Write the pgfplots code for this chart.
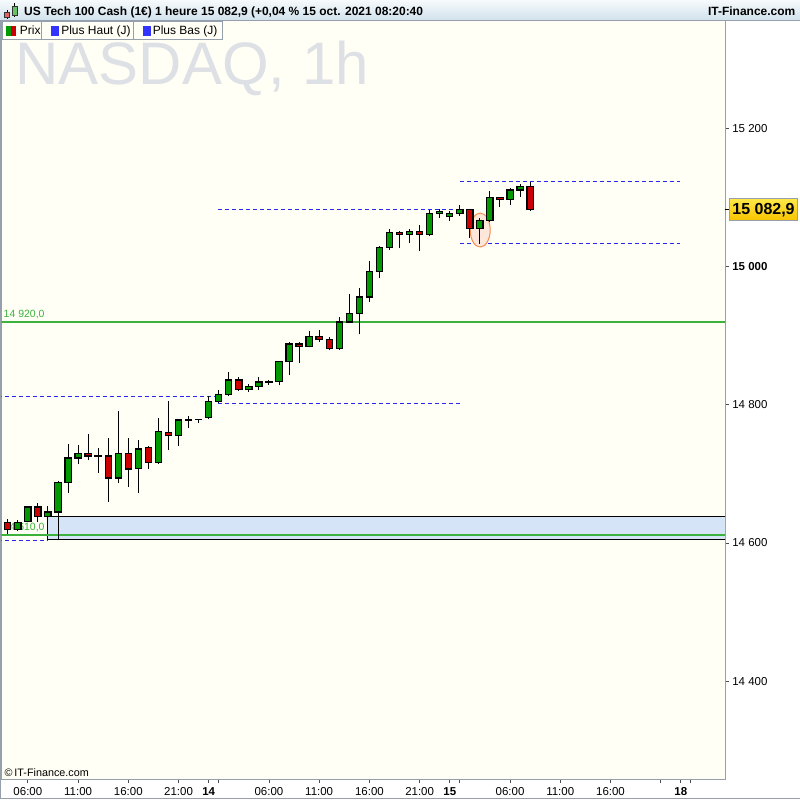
\documentclass[border=0pt]{standalone}
\usepackage{pgfplots}
\pgfplotsset{compat=1.18}
\usepackage{pgfplotstable}
\usepackage{fontspec}
\setmainfont{Liberation Sans}

\definecolor{plotbg}{RGB}{255,255,246}
\definecolor{upgreen}{RGB}{0,153,0}
\definecolor{downred}{RGB}{204,0,0}
\definecolor{lvlgreen}{RGB}{60,178,60}
\definecolor{dashblue}{RGB}{40,40,240}
\definecolor{zonefill}{RGB}{214,228,247}
\definecolor{framegray}{RGB}{150,160,172}
\definecolor{wmgray}{RGB}{221,224,228}
\definecolor{hdrtop}{RGB}{246,250,252}
\definecolor{hdrbot}{RGB}{208,225,236}
\definecolor{legblue}{RGB}{51,51,255}
\definecolor{pricey1}{RGB}{255,232,70}
\definecolor{pricey2}{RGB}{248,196,0}
\definecolor{ringfill}{RGB}{252,231,218}
\definecolor{ringdraw}{RGB}{245,140,80}

\pgfdeclareplotmark{nothing}{}

% hourly candles, h = hours since 13 oct 06:00
\pgfplotstableread{
h  open   high   low    close
-2 14630 14635 14613 14620
-1 14620 14633 14618 14630
0  14631 14654 14630 14652
1  14652 14658 14630 14638
2  14638 14654 14637 14645
3  14645 14690 14605 14687
4  14687 14744 14673 14723
5  14723 14742 14714 14730
6  14730 14758 14720 14726
7  14726 14738 14702 14726.5
8  14726 14752 14660 14694
9  14694 14791 14687 14729
10 14729 14752 14681 14707
11 14708 14749 14673 14736
12 14738 14741 14707 14716
13 14716 14781 14714 14761
14 14760 14806 14734 14756
15 14756 14780 14741 14778
16 14778 14784 14767 14779
17 14779 14780 14774 14778.5
18 14782 14813 14779 14805
19 14805 14822 14802 14815
20 14815 14847 14813 14836
21 14836 14840 14820 14822
22 14822 14830 14819 14827
23 14827 14840 14822 14833
24 14833 14836 14829 14834
25 14834 14864 14828 14863
26 14863 14891 14843 14888
27 14888 14891 14860 14884
28 14884 14907 14883 14899
29 14899 14908 14891 14894
30 14895 14898 14880 14881
31 14881 14927 14880 14920
32 14920 14960 14919 14932
33 14932 14969 14902 14956
34 14956 15008 14949 14993
35 14993 15030 14983 15028
36 15028 15055 15024 15049
37 15049 15051 15027 15046
38 15046 15055 15034 15051
39 15051 15060 15022 15046
40 15046 15082 15045 15077
41 15077 15083 15071 15080
42 15073 15081 15066 15077
43 15077 15089 15074 15083
44 15083 15084 15042 15055
45 15055 15071 15033 15067
46 15067 15109 15065 15100
47 15100 15101 15087 15097
48 15097 15114 15089 15111
49 15111 15120 15101 15116
50 15116 15123 15081 15082.9
}\candles

\begin{document}
\begin{tikzpicture}
% screen pixel frame: (X,Y) with Y downwards
\begin{scope}[x=1bp,y=-1bp,shift={(-1bp,780bp)}]
  \useasboundingbox (0,0) rectangle (800,800);
  \fill[white] (0,0) rectangle (800,800);
\end{scope}

\begin{axis}[
  at={(0,0)}, anchor=south west, name=main,
  scale only axis, width=724.5bp, height=759bp,
  xmin=-2.625, xmax=69.41, ymin=14258.3, ymax=15355.7,
  axis background/.style={fill=plotbg},
  axis line style={draw=framegray, line width=1bp},
  scaled y ticks=false, scaled x ticks=false,
  ytick={14400,14600,14800,15000,15200},
  yticklabels={14 400,14 600,14 800,{\bfseries 15 000},15 200},
  ytick pos=right, yticklabel pos=right,
  xtick={0,5,10,15,18,19,24,29,34,39,42,43,48,53,58,63,65,66},
  xticklabels={06:00,11:00,16:00,21:00,\textbf{14},{},06:00,11:00,16:00,21:00,\textbf{15},{},06:00,11:00,16:00,{},\textbf{18},{}},
  xtick pos=bottom,
  tick align=outside, major tick length=4bp,
  tick style={draw=black!70, line width=0.8bp},
  ticklabel style={font=\fontsize{11.5bp}{13bp}\selectfont, inner sep=0pt},
  yticklabel style={anchor=west, xshift=3bp},
  xticklabel style={anchor=north, yshift=-4bp},
]
% zone between 14605 and 14638
\addplot[fill=zonefill, draw=black, line width=1bp] coordinates {(2,14605) (70,14605) (70,14638) (2,14638)} -- cycle;

% horizontal levels
\addplot[lvlgreen, line width=2.2bp] coordinates {(-3,14920) (70,14920)};
\addplot[lvlgreen, line width=2.2bp] coordinates {(-3,14611) (70,14611)};
\node[anchor=base west, inner sep=0pt, text=lvlgreen, font=\fontsize{10.5bp}{12bp}\selectfont]
  at (axis cs:-2.625,14920) [xshift=2bp, yshift=4.3bp] {14 920,0};
\node[anchor=base west, inner sep=0pt, text=lvlgreen, font=\fontsize{10.5bp}{12bp}\selectfont]
  at (axis cs:-2.625,14611) [xshift=2bp, yshift=4.8bp] {14 610,0};

\addplot[dashblue, line width=1bp, dash pattern=on 4bp off 3bp] coordinates {(-3,14604) (2,14604)};
\addplot[dashblue, line width=1bp, dash pattern=on 4bp off 3bp] coordinates {(-3,14812.5) (18.95,14812.5)};
\addplot[dashblue, line width=1bp, dash pattern=on 4bp off 3bp] coordinates {(18.95,15083) (43,15083)};
\addplot[dashblue, line width=1bp, dash pattern=on 4bp off 3bp] coordinates {(18.95,14801.5) (43,14801.5)};
\addplot[dashblue, line width=1bp, dash pattern=on 4bp off 3bp] coordinates {(43,15123) (64.9,15123)};
\addplot[dashblue, line width=1bp, dash pattern=on 4bp off 3bp] coordinates {(43,15033) (64.9,15033)};

% highlight ring
\draw[fill=ringfill, draw=ringdraw, line width=1bp] (axis cs:45.03,15053) ellipse [x radius=10bp, y radius=17bp];

% candles
\addplot[
  only marks, mark=nothing, scatter,
  visualization depends on={\thisrow{open}-\thisrow{close} \as \dopen},
  visualization depends on={\thisrow{high}-\thisrow{close} \as \dhigh},
  visualization depends on={\thisrow{low}-\thisrow{close} \as \dlow},
  scatter/@pre marker code/.code={%
    \begin{scope}
    \ifdim\dopen pt>0pt \def\cfill{downred}\else\def\cfill{upgreen}\fi
    \draw[black, line width=1bp] (axis direction cs:0,\dlow) -- (axis direction cs:0,\dhigh);
    \filldraw[fill=\cfill, draw=black, line width=1.2bp] (axis direction cs:-0.31,0) rectangle (axis direction cs:0.31,\dopen);
    \end{scope}
  },
  scatter/@post marker code/.code={},
] table[x=h, y=close] {\candles};
\end{axis}

\begin{scope}[x=1bp,y=-1bp,shift={(-1bp,780bp)}]
  % header bar
  \shade[top color=hdrtop, bottom color=hdrbot] (0,0) rectangle (800,21);
  \draw[framegray, line width=1bp] (0,21) -- (800,21);
  \draw[black, line width=0.8bp] (6.5,10) -- (6.5,19);
  \filldraw[fill=downred!60, draw=black!80, line width=0.6bp] (4,12) rectangle (9,17);
  \draw[black, line width=0.8bp] (14.3,3) -- (14.3,17);
  \filldraw[fill=upgreen!60, draw=black!80, line width=0.6bp] (11.5,6.5) rectangle (17,15.5);
  \node[anchor=base west, inner sep=0pt, font=\bfseries\fontsize{12bp}{14bp}\selectfont] at (23.5,16)
    {US Tech 100 Cash (1€) 1 heure 15 082,9 (+0,04 \% 15 oct. 2021 08:20:40};
  \node[anchor=base east, inner sep=0pt, font=\bfseries\fontsize{12bp}{14bp}\selectfont] at (796,16)
    {IT-Finance.com};

  % legend cells
  \draw[framegray, line width=1bp] (2,22) rectangle (41.3,39.3);
  \draw[framegray, line width=1bp] (41.3,22) rectangle (133.3,39.3);
  \draw[framegray, line width=1bp] (133.3,22) rectangle (222,39.3);
  \fill[upgreen] (5.3,25.7) rectangle (10.7,36);
  \fill[downred] (10.7,25.7) rectangle (16,36);
  \fill[legblue] (50.5,25.7) rectangle (58.5,36);
  \fill[legblue] (142.3,25.7) rectangle (150.3,36);
  \node[anchor=base west, inner sep=0pt, font=\fontsize{12bp}{14bp}\selectfont] at (19.3,35) {Prix};
  \node[anchor=base west, inner sep=0pt, font=\fontsize{12bp}{14bp}\selectfont] at (60.7,35) {Plus Haut (J)};
  \node[anchor=base west, inner sep=0pt, font=\fontsize{12bp}{14bp}\selectfont] at (152.3,35) {Plus Bas (J)};

  % watermark
  \node[anchor=base west, inner sep=0pt, text=wmgray, font=\fontsize{60bp}{60bp}\selectfont] at (15,85) {NASDAQ, 1h};

  % last price tag
  \draw[black, line width=1bp] (725.5,209.7) -- (729.5,209.7);
  \shade[top color=pricey1, bottom color=pricey2] (730,199) rectangle (797.5,220.5);
  \draw[framegray, line width=1bp] (730,199) rectangle (797.5,220.5);
  \node[inner sep=0pt, font=\bfseries\fontsize{16bp}{16bp}\selectfont] at (764,210) {15 082,9};

  % copyright and outer frame
  \node[anchor=base west, inner sep=0pt, font=\fontsize{10.8bp}{12bp}\selectfont] at (4,777) {©\,IT-Finance.com};
  \draw[framegray, line width=1bp] (0.5,21) -- (0.5,800);
  \draw[framegray, line width=1bp] (0,799.5) -- (800,799.5);
\end{scope}
\end{tikzpicture}
\end{document}
